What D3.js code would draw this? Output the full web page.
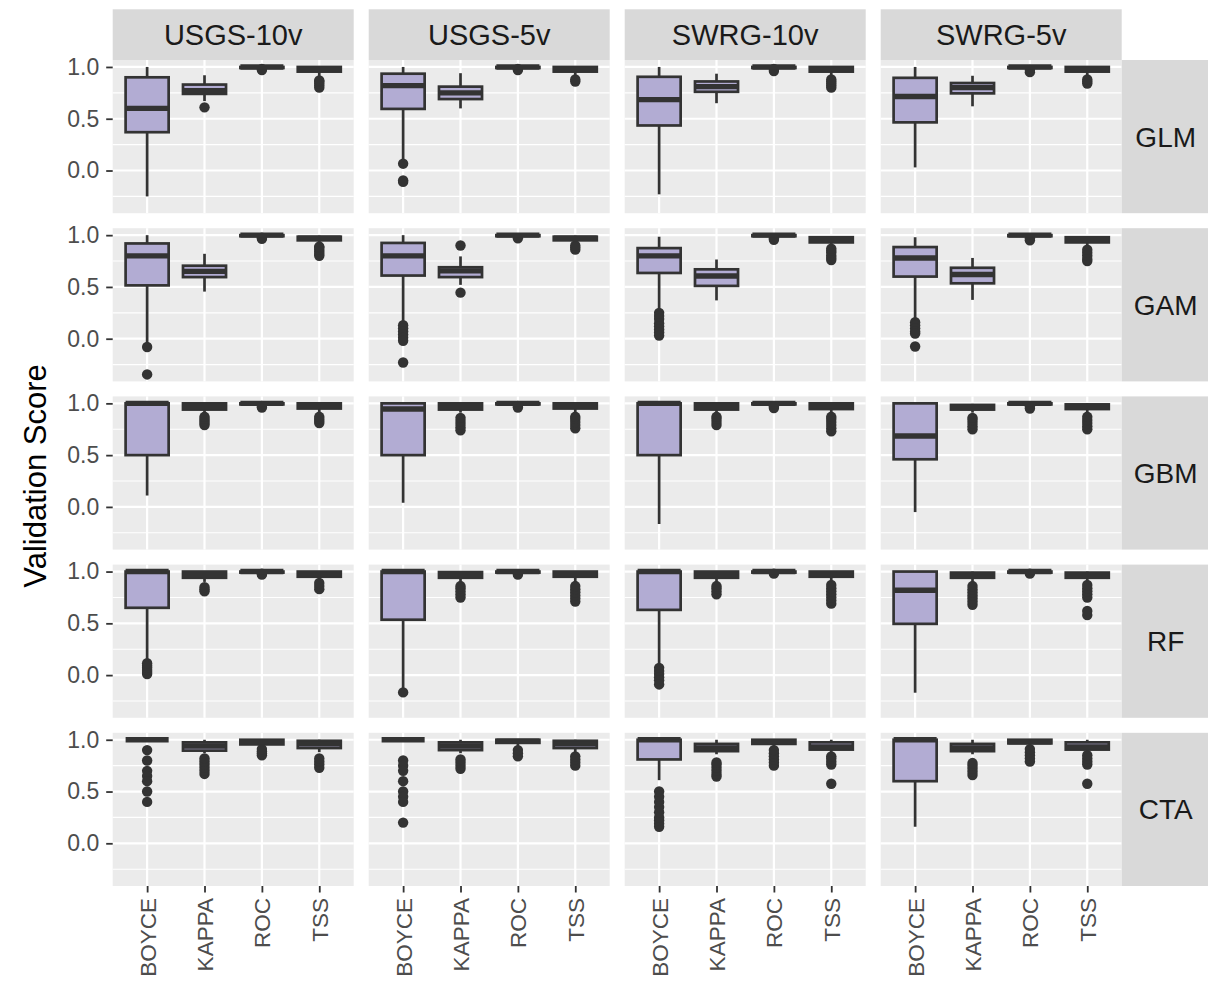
<!DOCTYPE html>
<html>
<head>
<meta charset="utf-8">
<script src="https://cdn.jsdelivr.net/npm/d3@7"></script>
<style>
  body { margin: 0; background: #fff; }
  text { font-family: "Liberation Sans", Arial, sans-serif; }
</style>
</head>
<body>
<div id="chart"></div>
<script>

// facet columns / rows / x categories
var datasets = ["USGS-10v", "USGS-5v", "SWRG-10v", "SWRG-5v"];
var models = ["GLM", "GAM", "GBM", "RF", "CTA"];
var metrics = ["BOYCE", "KAPPA", "ROC", "TSS"];
var yTickValues = [0, 0.5, 1.0];
var yTitle = "Validation Score";

// box stats per dataset (rows) and metric (cols): [whisker low, q1, median, q3, whisker high]
var glmStats = [
    [[-0.25, 0.37, 0.60, 0.90, 1.0], [0.67, 0.74, 0.77, 0.83, 0.92], [0.99, 0.99, 1.0, 1.0, 1.0], [0.90, 0.955, 0.98, 1.0, 1.0]],
    [[0.09, 0.595, 0.82, 0.935, 1.0], [0.60, 0.69, 0.75, 0.81, 0.94], [0.99, 0.99, 1.0, 1.0, 1.0], [0.92, 0.955, 0.98, 1.0, 1.0]],
    [[-0.23, 0.435, 0.685, 0.905, 1.0], [0.65, 0.76, 0.81, 0.86, 0.935], [0.99, 0.99, 1.0, 1.0, 1.0], [0.91, 0.955, 0.98, 1.0, 1.0]],
    [[0.03, 0.465, 0.715, 0.895, 1.0], [0.62, 0.745, 0.80, 0.845, 0.915], [0.99, 0.99, 1.0, 1.0, 1.0], [0.92, 0.955, 0.98, 1.0, 1.0]]
];
var glmOutliers = [
    [[], [0.61], [0.97, 0.98], [0.80, 0.82, 0.84, 0.86, 0.87]],
    [[0.066, -0.095, -0.11], [], [0.97, 0.98], [0.86, 0.88]],
    [[], [], [0.96, 0.98], [0.80, 0.82, 0.84, 0.86, 0.88]],
    [[], [], [0.95, 0.97], [0.84, 0.86, 0.88]]
];

var gamStats = [
    [[-0.04, 0.515, 0.80, 0.92, 1.0], [0.455, 0.595, 0.65, 0.705, 0.82], [0.99, 0.99, 1.0, 1.0, 1.0], [0.92, 0.95, 0.97, 0.985, 0.995]],
    [[0.17, 0.61, 0.80, 0.925, 1.0], [0.52, 0.595, 0.655, 0.69, 0.795], [0.99, 0.99, 1.0, 1.0, 1.0], [0.93, 0.95, 0.97, 0.985, 0.995]],
    [[0.29, 0.635, 0.80, 0.875, 0.985], [0.37, 0.51, 0.605, 0.67, 0.765], [0.98, 0.99, 1.0, 1.0, 1.0], [0.90, 0.93, 0.955, 0.98, 0.99]],
    [[0.19, 0.60, 0.78, 0.885, 0.98], [0.375, 0.535, 0.62, 0.685, 0.78], [0.98, 0.99, 1.0, 1.0, 1.0], [0.90, 0.93, 0.955, 0.98, 0.99]]
];
var gamOutliers = [
    [[-0.08, -0.345], [], [0.965, 0.975], [0.80, 0.82, 0.84, 0.86, 0.88, 0.89]],
    [[0.13, 0.10, 0.07, 0.04, 0.01, -0.02, -0.23], [0.90, 0.445], [0.97], [0.86, 0.88, 0.90]],
    [[0.25, 0.22, 0.19, 0.15, 0.12, 0.09, 0.06, 0.03], [], [0.955, 0.97], [0.76, 0.78, 0.80, 0.83, 0.85, 0.87]],
    [[0.16, 0.13, 0.10, 0.07, 0.05, -0.075], [], [0.95, 0.97], [0.75, 0.77, 0.80, 0.83, 0.86]]
];

var gbmStats = [
    [[0.11, 0.50, 1.0, 1.0, 1.0], [0.91, 0.94, 0.97, 1.0, 1.0], [0.99, 0.99, 1.0, 1.0, 1.0], [0.91, 0.95, 0.98, 1.0, 1.0]],
    [[0.04, 0.50, 0.945, 1.0, 1.0], [0.91, 0.94, 0.97, 1.0, 1.0], [0.99, 0.99, 1.0, 1.0, 1.0], [0.91, 0.95, 0.98, 1.0, 1.0]],
    [[-0.165, 0.50, 1.0, 1.0, 1.0], [0.91, 0.94, 0.97, 1.0, 1.0], [0.99, 0.99, 1.0, 1.0, 1.0], [0.91, 0.945, 0.98, 1.0, 1.0]],
    [[-0.05, 0.46, 0.685, 1.0, 1.0], [0.91, 0.94, 0.96, 0.985, 0.995], [0.99, 0.99, 1.0, 1.0, 1.0], [0.91, 0.945, 0.97, 0.99, 1.0]]
];
var gbmOutliers = [
    [[], [0.79, 0.81, 0.83, 0.85, 0.87], [0.96, 0.975], [0.81, 0.83, 0.85, 0.87]],
    [[], [0.74, 0.77, 0.80, 0.83, 0.86], [0.96, 0.975], [0.76, 0.79, 0.82, 0.85, 0.87]],
    [[], [0.79, 0.82, 0.85, 0.87], [0.955, 0.97], [0.73, 0.76, 0.79, 0.82, 0.85, 0.87]],
    [[], [0.75, 0.78, 0.81, 0.84, 0.86], [0.95, 0.97], [0.75, 0.78, 0.81, 0.84, 0.87]]
];

var rfStats = [
    [[0.13, 0.65, 1.0, 1.0, 1.0], [0.90, 0.94, 0.97, 1.0, 1.0], [0.99, 0.99, 1.0, 1.0, 1.0], [0.91, 0.95, 0.98, 1.0, 1.0]],
    [[-0.14, 0.535, 1.0, 1.0, 1.0], [0.90, 0.94, 0.97, 0.995, 1.0], [0.99, 0.99, 1.0, 1.0, 1.0], [0.90, 0.95, 0.98, 1.0, 1.0]],
    [[0.10, 0.63, 1.0, 1.0, 1.0], [0.90, 0.94, 0.97, 1.0, 1.0], [0.99, 0.99, 1.0, 1.0, 1.0], [0.90, 0.95, 0.98, 1.0, 1.0]],
    [[-0.17, 0.495, 0.82, 1.0, 1.0], [0.90, 0.94, 0.965, 0.99, 1.0], [0.99, 0.99, 1.0, 1.0, 1.0], [0.90, 0.94, 0.965, 0.99, 1.0]]
];
var rfOutliers = [
    [[0.01, 0.03, 0.05, 0.07, 0.09, 0.115], [0.81, 0.83, 0.85], [0.97, 0.98], [0.83, 0.86, 0.89]],
    [[-0.167], [0.75, 0.78, 0.81, 0.84, 0.86], [0.97], [0.71, 0.74, 0.77, 0.80, 0.83, 0.86]],
    [[0.07, 0.04, 0.01, -0.02, -0.05, -0.09], [0.78, 0.81, 0.84, 0.86], [0.98], [0.69, 0.72, 0.75, 0.78, 0.81, 0.84, 0.87]],
    [[], [0.68, 0.71, 0.74, 0.77, 0.80, 0.83, 0.86], [0.98], [0.58, 0.62, 0.75, 0.78, 0.81, 0.84, 0.87]]
];

var ctaStats = [
    [[1.0, 1.0, 1.0, 1.0, 1.0], [0.87, 0.895, 0.94, 0.975, 1.0], [0.93, 0.955, 0.98, 1.0, 1.0], [0.88, 0.92, 0.96, 0.99, 1.0]],
    [[1.0, 1.0, 1.0, 1.0, 1.0], [0.87, 0.90, 0.94, 0.975, 1.0], [0.94, 0.97, 0.985, 1.0, 1.0], [0.88, 0.92, 0.96, 0.99, 1.0]],
    [[0.61, 0.81, 1.0, 1.0, 1.0], [0.86, 0.89, 0.92, 0.96, 1.0], [0.93, 0.96, 0.98, 1.0, 1.0], [0.87, 0.905, 0.93, 0.975, 1.0]],
    [[0.16, 0.60, 1.0, 1.0, 1.0], [0.86, 0.89, 0.92, 0.96, 1.0], [0.93, 0.965, 0.98, 1.0, 1.0], [0.87, 0.905, 0.93, 0.975, 1.0]]
];
var ctaOutliers = [
    [[0.9, 0.8, 0.7, 0.65, 0.6, 0.5, 0.4], [0.67, 0.70, 0.73, 0.76, 0.79, 0.82], [0.85, 0.87, 0.89, 0.91], [0.73, 0.76, 0.79, 0.82]],
    [[0.8, 0.75, 0.7, 0.6, 0.5, 0.45, 0.4, 0.2], [0.72, 0.75, 0.78, 0.81], [0.84, 0.87, 0.90], [0.75, 0.78, 0.81, 0.84]],
    [[0.16, 0.19, 0.22, 0.25, 0.3, 0.35, 0.4, 0.45, 0.5], [0.645, 0.67, 0.70, 0.73, 0.76, 0.78], [0.75, 0.78, 0.81, 0.84, 0.87, 0.90], [0.575, 0.76, 0.79, 0.82, 0.84]],
    [[], [0.66, 0.69, 0.72, 0.75, 0.775], [0.79, 0.82, 0.85, 0.88, 0.91], [0.575, 0.76, 0.79, 0.82, 0.85]]
];

var statsByModel = [glmStats, gamStats, gbmStats, rfStats, ctaStats];
var outliersByModel = [glmOutliers, gamOutliers, gbmOutliers, rfOutliers, ctaOutliers];


/*
 * FacetBoxplot - ggplot style facet_grid of boxplots
 */
FacetBoxplot = function(_parentElement) {
    this.parentElement = _parentElement;
    this.initVis();
}

FacetBoxplot.prototype.initVis = function() {
    var vis = this;

    vis.width = 1208;
    vis.height = 982;

    // panel grid geometry
    vis.panelLeft = 112.7;
    vis.panelTop = 60;
    vis.panelW = 241;
    vis.panelH = 153.2;
    vis.gap = 15;
    vis.stripTop = 9.3;
    vis.rightStripW = 87;

    vis.svg = d3.select("#" + vis.parentElement).append("svg")
        .attr("width", vis.width)
        .attr("height", vis.height);

    vis.wrangleData();
}

FacetBoxplot.prototype.wrangleData = function() {
    var vis = this;

    vis.boxes = [];
    models.forEach(function(m, r) {
        datasets.forEach(function(ds, c) {
            metrics.forEach(function(mt, k) {
                vis.boxes.push({
                    row: r, col: c, model: m, dataset: ds, metric: mt,
                    stats: statsByModel[r][c][k],
                    outliers: outliersByModel[r][c][k]
                });
            });
        });
    });

    // fixed y scale with ggplot's 5% expansion
    var allVals = [];
    vis.boxes.forEach(function(d) {
        allVals.push(d.stats[0], d.stats[4]);
        allVals = allVals.concat(d.outliers);
    });
    var ext = d3.extent(allVals);
    var pad = (ext[1] - ext[0]) * 0.05;

    vis.y = d3.scaleLinear()
        .domain([ext[0] - pad, ext[1] + pad])
        .range([vis.panelH, 0]);

    // discrete x: 0.6 expansion each side
    vis.x = d3.scalePoint()
        .domain(metrics)
        .range([0, vis.panelW])
        .padding(0.6);

    vis.boxW = vis.x.step() * 0.75;

    vis.updateVis();
}

FacetBoxplot.prototype.colX = function(c) {
    return this.panelLeft + c * (this.panelW + this.gap);
}
FacetBoxplot.prototype.rowY = function(r) {
    return this.panelTop + r * (this.panelH + this.gap);
}

FacetBoxplot.prototype.updateVis = function() {
    var vis = this;

    var cells = [];
    models.forEach(function(m, r) {
        datasets.forEach(function(ds, c) { cells.push({ row: r, col: c }); });
    });

    var dom = vis.y.domain();
    var minorTicks = [-0.25, 0.25, 0.75].filter(function(v) { return v > dom[0] && v < dom[1]; });

    var panels = vis.svg.selectAll(".panel")
        .data(cells)
        .enter().append("g")
        .attr("class", "panel")
        .attr("transform", function(d) {
            return "translate(" + vis.colX(d.col) + "," + vis.rowY(d.row) + ")";
        });

    panels.append("rect")
        .attr("width", vis.panelW)
        .attr("height", vis.panelH)
        .attr("fill", "#EBEBEB");

    // grid
    panels.each(function() {
        var p = d3.select(this);
        p.selectAll(".minor").data(minorTicks).enter().append("line")
            .attr("x1", 0).attr("x2", vis.panelW)
            .attr("y1", function(d) { return vis.y(d); })
            .attr("y2", function(d) { return vis.y(d); })
            .attr("stroke", "#fff").attr("stroke-width", 1.1);
        p.selectAll(".major").data(yTickValues).enter().append("line")
            .attr("x1", 0).attr("x2", vis.panelW)
            .attr("y1", function(d) { return vis.y(d); })
            .attr("y2", function(d) { return vis.y(d); })
            .attr("stroke", "#fff").attr("stroke-width", 2.2);
        p.selectAll(".vmajor").data(metrics).enter().append("line")
            .attr("x1", function(d) { return vis.x(d); })
            .attr("x2", function(d) { return vis.x(d); })
            .attr("y1", 0).attr("y2", vis.panelH)
            .attr("stroke", "#fff").attr("stroke-width", 2.2);
    });

    // boxes
    panels.each(function(cell) {
        var p = d3.select(this);
        var data = vis.boxes.filter(function(b) { return b.row == cell.row && b.col == cell.col; });

        var g = p.selectAll(".box")
            .data(data)
            .enter().append("g")
            .attr("class", "box")
            .attr("transform", function(d) { return "translate(" + vis.x(d.metric) + ",0)"; });

        g.selectAll(".outlier")
            .data(function(d) { return d.outliers; })
            .enter().append("circle")
            .attr("cy", function(v) { return vis.y(v); })
            .attr("r", 5.2)
            .attr("fill", "#333333");

        // whiskers
        g.append("line")
            .attr("y1", function(d) { return vis.y(d.stats[0]); })
            .attr("y2", function(d) { return vis.y(d.stats[1]); })
            .attr("stroke", "#333333").attr("stroke-width", 2.7);
        g.append("line")
            .attr("y1", function(d) { return vis.y(d.stats[3]); })
            .attr("y2", function(d) { return vis.y(d.stats[4]); })
            .attr("stroke", "#333333").attr("stroke-width", 2.7);

        g.append("rect")
            .attr("x", -vis.boxW / 2)
            .attr("width", vis.boxW)
            .attr("y", function(d) { return vis.y(d.stats[3]); })
            .attr("height", function(d) { return vis.y(d.stats[1]) - vis.y(d.stats[3]); })
            .attr("fill", "#B2ACD3")
            .attr("stroke", "#333333")
            .attr("stroke-width", 2.7);

        // median
        g.append("line")
            .attr("x1", -vis.boxW / 2).attr("x2", vis.boxW / 2)
            .attr("y1", function(d) { return vis.y(d.stats[2]); })
            .attr("y2", function(d) { return vis.y(d.stats[2]); })
            .attr("stroke", "#333333").attr("stroke-width", 5.4);
    });

    // y axes on the first column
    var yAxis = d3.axisLeft(vis.y)
        .tickValues(yTickValues)
        .tickFormat(d3.format(".1f"))
        .tickSize(6.5)
        .tickPadding(7);

    models.forEach(function(m, r) {
        var ax = vis.svg.append("g")
            .attr("class", "y-axis axis")
            .attr("transform", "translate(" + vis.colX(0) + "," + vis.rowY(r) + ")")
            .call(yAxis);
        ax.select(".domain").remove();
        ax.selectAll("line").attr("stroke", "#333333").attr("stroke-width", 1.8);
        ax.selectAll("text")
            .attr("font-size", 23)
            .attr("font-family", "Liberation Sans, Arial, sans-serif")
            .attr("fill", "#4D4D4D");
    });

    // x axes on the bottom row
    var xAxis = d3.axisBottom(vis.x).tickSize(6.5);

    datasets.forEach(function(ds, c) {
        var ax = vis.svg.append("g")
            .attr("class", "x-axis axis")
            .attr("transform", "translate(" + vis.colX(c) + "," + (vis.rowY(models.length - 1) + vis.panelH) + ")")
            .call(xAxis);
        ax.select(".domain").remove();
        ax.selectAll("line").attr("stroke", "#333333").attr("stroke-width", 1.8);
        ax.selectAll("text")
            .attr("font-size", 22.5)
            .attr("font-family", "Liberation Sans, Arial, sans-serif")
            .attr("fill", "#4D4D4D")
            .attr("transform", "rotate(-90)")
            .attr("x", -12)
            .attr("y", 0)
            .attr("dy", "0.35em")
            .style("text-anchor", "end");
    });

    // top strips
    var top = vis.svg.selectAll(".strip-top")
        .data(datasets)
        .enter().append("g")
        .attr("class", "strip-top")
        .attr("transform", function(d, i) { return "translate(" + vis.colX(i) + "," + vis.stripTop + ")"; });
    top.append("rect")
        .attr("width", vis.panelW)
        .attr("height", vis.panelTop - vis.stripTop)
        .attr("fill", "#D9D9D9");
    top.append("text")
        .attr("x", vis.panelW / 2)
        .attr("y", (vis.panelTop - vis.stripTop) / 2)
        .attr("dy", "0.36em")
        .attr("text-anchor", "middle")
        .attr("font-size", 29)
        .attr("fill", "#1A1A1A")
        .text(function(d) { return d; });

    // right strips
    var rightX = vis.colX(datasets.length - 1) + vis.panelW;
    var side = vis.svg.selectAll(".strip-right")
        .data(models)
        .enter().append("g")
        .attr("class", "strip-right")
        .attr("transform", function(d, i) { return "translate(" + rightX + "," + vis.rowY(i) + ")"; });
    side.append("rect")
        .attr("width", vis.rightStripW)
        .attr("height", vis.panelH)
        .attr("fill", "#D9D9D9");
    side.append("text")
        .attr("x", 44)
        .attr("y", vis.panelH / 2)
        .attr("dy", "0.36em")
        .attr("text-anchor", "middle")
        .attr("font-size", 28)
        .attr("fill", "#1A1A1A")
        .text(function(d) { return d; });

    // y title
    var midY = (vis.panelTop + vis.rowY(models.length - 1) + vis.panelH) / 2;
    vis.svg.append("text")
        .attr("transform", "translate(46," + (midY + 3) + ") rotate(-90)")
        .attr("text-anchor", "middle")
        .attr("font-size", 31)
        .attr("fill", "#000")
        .text(yTitle);
}

var chart = new FacetBoxplot("chart");

</script>
</body>
</html>
